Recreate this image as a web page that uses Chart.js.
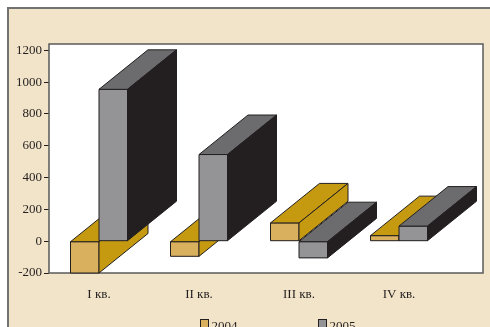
<!DOCTYPE html>
<html>
<head>
<meta charset="utf-8">
<script src="https://cdn.jsdelivr.net/npm/chart.js@4.4.1/dist/chart.umd.min.js"></script>
<style>
  html, body { margin: 0; padding: 0; background: #fff; overflow: hidden; }
  #wrap { position: relative; width: 490px; height: 327px; overflow: hidden; }
  #panel {
    position: absolute; left: 7px; top: 7px; width: 500px; height: 340px;
    background: #f2e4c8;
    border-left: 2px solid #727272; border-top: 2px solid #727272;
  }
  #chart { position: absolute; left: 0; top: 0; }
</style>
</head>
<body>
<div id="wrap">
  <div id="panel"></div>
  <canvas id="chart" width="490" height="327"></canvas>
</div>
<script>
const quarters = ['I кв.', 'II кв.', 'III кв.', 'IV кв.'];
const values2004 = [-200, -95, 115, 35];
const values2005 = [955, 545, -105, 95];
const yTicks = [-200, 0, 200, 400, 600, 800, 1000, 1200];

const ink = '#231f20';
const depthX = 49, depthY = 39.5;
const faces = [
  { front: '#d9b15e', top: '#c59a10', side: '#c59a10' },
  { front: '#949497', top: '#6c6c6f', side: '#231f20' }
];

Chart.defaults.font.family = "'Liberation Serif', 'Times New Roman', serif";
Chart.defaults.font.size = 13;
Chart.defaults.color = ink;

function poly(ctx, pts, fill) {
  ctx.beginPath();
  ctx.moveTo(pts[0][0], pts[0][1]);
  for (let i = 1; i < pts.length; i++) ctx.lineTo(pts[i][0], pts[i][1]);
  ctx.closePath();
  ctx.fillStyle = fill;
  ctx.fill();
  ctx.stroke();
}

// white plot wall, widened on the right to hold the box depth
const plotFrame = {
  id: 'plotFrame',
  beforeDatasetsDraw(chart) {
    const { ctx, chartArea: a } = chart;
    ctx.save();
    ctx.fillStyle = '#fff';
    ctx.fillRect(a.left, a.top, a.right - a.left + 34, a.bottom - a.top);
    ctx.lineWidth = 1.5;
    ctx.strokeStyle = '#5a5a5a';
    ctx.strokeRect(a.left, a.top, a.right - a.left + 34, a.bottom - a.top);
    ctx.restore();
  }
};

// extrude every bar into a box: front, top and right side
const boxes = {
  id: 'boxes',
  afterDatasetsDraw(chart) {
    const ctx = chart.ctx;
    ctx.save();
    ctx.lineWidth = 1;
    ctx.strokeStyle = ink;
    ctx.lineJoin = 'miter';
    chart.data.datasets.forEach((ds, di) => {
      const c = faces[di];
      chart.getDatasetMeta(di).data.forEach(bar => {
        const p = bar.getProps(['x', 'y', 'base', 'width'], true);
        const l = p.x - p.width / 2, r = p.x + p.width / 2;
        const t = Math.min(p.y, p.base), b = Math.max(p.y, p.base);
        poly(ctx, [[l, t], [r, t], [r, b], [l, b]], c.front);
        poly(ctx, [[l, t], [l + depthX, t - depthY], [r + depthX, t - depthY], [r, t]], c.top);
        poly(ctx, [[r, t], [r + depthX, t - depthY], [r + depthX, b - depthY], [r, b]], c.side);
      });
    });
    ctx.restore();
  }
};

const legendRow = {
  id: 'legendRow',
  afterDraw(chart) {
    const ctx = chart.ctx;
    ctx.save();
    ctx.font = "13px 'Liberation Serif', serif";
    ctx.textBaseline = 'alphabetic';
    ctx.lineWidth = 1;
    chart.data.datasets.forEach((ds, i) => {
      const x = 200.5 + i * 118, y = 319.5;
      ctx.fillStyle = faces[i].front;
      ctx.fillRect(x, y, 8, 8);
      ctx.strokeStyle = ink;
      ctx.strokeRect(x, y, 8, 8);
      ctx.fillStyle = ink;
      ctx.fillText(ds.label, x + 11, 329.5);
    });
    ctx.restore();
  }
};

new Chart(document.getElementById('chart'), {
  type: 'bar',
  data: {
    labels: quarters,
    datasets: [
      { label: '2004', data: values2004, backgroundColor: faces[0].front, borderColor: ink, borderWidth: 1 },
      { label: '2005', data: values2005, backgroundColor: faces[1].front, borderColor: ink, borderWidth: 1 }
    ]
  },
  options: {
    responsive: false,
    animation: false,
    events: [],
    layout: { padding: { top: 44, right: 41, left: 0, bottom: 0 } },
    datasets: { bar: { categoryPercentage: 0.57, barPercentage: 1 } },
    plugins: { legend: { display: false }, tooltip: { enabled: false } },
    scales: {
      x: {
        grid: { display: false },
        border: { display: false },
        ticks: { padding: 6, maxRotation: 0 },
        afterFit(scale) { scale.height = 54; }
      },
      y: {
        min: -200,
        max: 1240,
        grid: { drawOnChartArea: false, drawTicks: true, tickLength: 5, color: ink, lineWidth: 1 },
        border: { display: false },
        ticks: { padding: 2, includeBounds: false, callback: v => String(v) },
        afterBuildTicks(scale) { scale.ticks = yTicks.map(v => ({ value: v })); },
        afterFit(scale) { scale.width = 49; }
      }
    }
  },
  plugins: [plotFrame, boxes, legendRow]
});
</script>
</body>
</html>
